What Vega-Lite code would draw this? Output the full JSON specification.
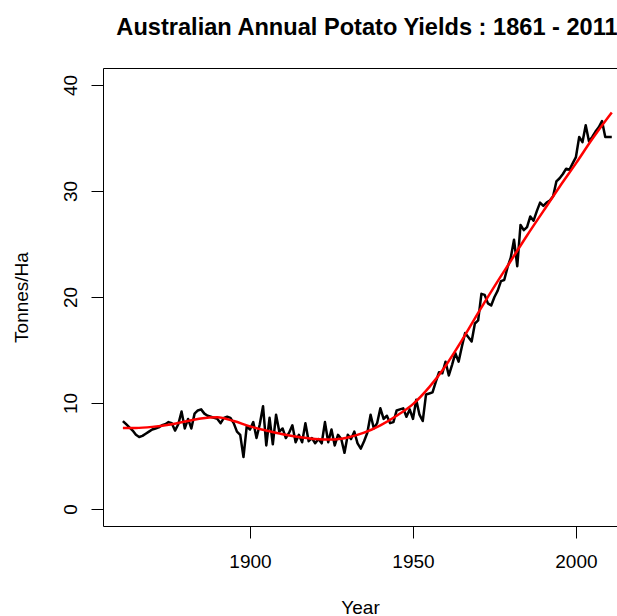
{
  "$schema": "https://vega.github.io/schema/vega-lite/v6.json",
  "width": 514,
  "height": 458,
  "autosize": {"type": "none"},
  "padding": {"left": 103, "top": 68, "right": 0, "bottom": 90},
  "background": "white",
  "config": {
    "view": {"stroke": "black", "strokeWidth": 1},
    "font": "Liberation Sans"
  },
  "title": {
    "text": "Australian Annual Potato Yields : 1861 - 2011",
    "font": "Liberation Sans",
    "fontSize": 23.6,
    "fontWeight": "bold",
    "color": "black",
    "anchor": "middle",
    "frame": "group",
    "dx": 7,
    "baseline": "top",
    "offset": 28
  },
  "datasets": {
    "yields": [
      {"Year": 1861, "Yield": 8.3}, {"Year": 1862, "Yield": 8.0}, {"Year": 1863, "Yield": 7.7}, {"Year": 1864, "Yield": 7.4}, {"Year": 1865, "Yield": 7.0},
      {"Year": 1866, "Yield": 6.8}, {"Year": 1867, "Yield": 6.9}, {"Year": 1868, "Yield": 7.1}, {"Year": 1869, "Yield": 7.3}, {"Year": 1870, "Yield": 7.5},
      {"Year": 1871, "Yield": 7.6}, {"Year": 1872, "Yield": 7.7}, {"Year": 1873, "Yield": 7.9}, {"Year": 1874, "Yield": 8.0}, {"Year": 1875, "Yield": 8.2},
      {"Year": 1876, "Yield": 8.1}, {"Year": 1877, "Yield": 7.4}, {"Year": 1878, "Yield": 8.0}, {"Year": 1879, "Yield": 9.2}, {"Year": 1880, "Yield": 7.6},
      {"Year": 1881, "Yield": 8.5}, {"Year": 1882, "Yield": 7.6}, {"Year": 1883, "Yield": 9.0}, {"Year": 1884, "Yield": 9.3}, {"Year": 1885, "Yield": 9.4},
      {"Year": 1886, "Yield": 9.0}, {"Year": 1887, "Yield": 8.8}, {"Year": 1888, "Yield": 8.7}, {"Year": 1889, "Yield": 8.6}, {"Year": 1890, "Yield": 8.5},
      {"Year": 1891, "Yield": 8.1}, {"Year": 1892, "Yield": 8.6}, {"Year": 1893, "Yield": 8.7}, {"Year": 1894, "Yield": 8.6}, {"Year": 1895, "Yield": 8.1},
      {"Year": 1896, "Yield": 7.3}, {"Year": 1897, "Yield": 7.0}, {"Year": 1898, "Yield": 4.9}, {"Year": 1899, "Yield": 7.8}, {"Year": 1900, "Yield": 7.5},
      {"Year": 1901, "Yield": 8.2}, {"Year": 1902, "Yield": 6.7}, {"Year": 1903, "Yield": 8.0}, {"Year": 1904, "Yield": 9.7}, {"Year": 1905, "Yield": 6.0},
      {"Year": 1906, "Yield": 8.6}, {"Year": 1907, "Yield": 6.1}, {"Year": 1908, "Yield": 8.9}, {"Year": 1909, "Yield": 7.3}, {"Year": 1910, "Yield": 7.6},
      {"Year": 1911, "Yield": 6.7}, {"Year": 1912, "Yield": 7.2}, {"Year": 1913, "Yield": 7.9}, {"Year": 1914, "Yield": 6.3}, {"Year": 1915, "Yield": 7.0},
      {"Year": 1916, "Yield": 6.3}, {"Year": 1917, "Yield": 8.1}, {"Year": 1918, "Yield": 6.4}, {"Year": 1919, "Yield": 6.7}, {"Year": 1920, "Yield": 6.2},
      {"Year": 1921, "Yield": 6.6}, {"Year": 1922, "Yield": 6.2}, {"Year": 1923, "Yield": 8.2}, {"Year": 1924, "Yield": 6.3}, {"Year": 1925, "Yield": 7.5},
      {"Year": 1926, "Yield": 6.0}, {"Year": 1927, "Yield": 7.0}, {"Year": 1928, "Yield": 6.6}, {"Year": 1929, "Yield": 5.3}, {"Year": 1930, "Yield": 7.0},
      {"Year": 1931, "Yield": 6.6}, {"Year": 1932, "Yield": 7.3}, {"Year": 1933, "Yield": 6.2}, {"Year": 1934, "Yield": 5.7}, {"Year": 1935, "Yield": 6.4},
      {"Year": 1936, "Yield": 7.2}, {"Year": 1937, "Yield": 8.9}, {"Year": 1938, "Yield": 7.6}, {"Year": 1939, "Yield": 8.1}, {"Year": 1940, "Yield": 9.5},
      {"Year": 1941, "Yield": 8.5}, {"Year": 1942, "Yield": 8.8}, {"Year": 1943, "Yield": 8.1}, {"Year": 1944, "Yield": 8.2}, {"Year": 1945, "Yield": 9.3},
      {"Year": 1946, "Yield": 9.4}, {"Year": 1947, "Yield": 9.5}, {"Year": 1948, "Yield": 8.7}, {"Year": 1949, "Yield": 9.4}, {"Year": 1950, "Yield": 8.5},
      {"Year": 1951, "Yield": 10.3}, {"Year": 1952, "Yield": 8.9}, {"Year": 1953, "Yield": 8.3}, {"Year": 1954, "Yield": 10.8}, {"Year": 1955, "Yield": 10.9},
      {"Year": 1956, "Yield": 11.0}, {"Year": 1957, "Yield": 12.0}, {"Year": 1958, "Yield": 12.9}, {"Year": 1959, "Yield": 12.8}, {"Year": 1960, "Yield": 13.9},
      {"Year": 1961, "Yield": 12.6}, {"Year": 1962, "Yield": 13.6}, {"Year": 1963, "Yield": 14.7}, {"Year": 1964, "Yield": 13.9}, {"Year": 1965, "Yield": 15.3},
      {"Year": 1966, "Yield": 16.6}, {"Year": 1967, "Yield": 16.2}, {"Year": 1968, "Yield": 15.8}, {"Year": 1969, "Yield": 17.5}, {"Year": 1970, "Yield": 17.8},
      {"Year": 1971, "Yield": 20.3}, {"Year": 1972, "Yield": 20.2}, {"Year": 1973, "Yield": 19.4}, {"Year": 1974, "Yield": 19.2}, {"Year": 1975, "Yield": 20.0},
      {"Year": 1976, "Yield": 20.6}, {"Year": 1977, "Yield": 21.5}, {"Year": 1978, "Yield": 21.6}, {"Year": 1979, "Yield": 22.8}, {"Year": 1980, "Yield": 23.7},
      {"Year": 1981, "Yield": 25.4}, {"Year": 1982, "Yield": 22.9}, {"Year": 1983, "Yield": 26.8}, {"Year": 1984, "Yield": 26.3}, {"Year": 1985, "Yield": 26.6},
      {"Year": 1986, "Yield": 27.6}, {"Year": 1987, "Yield": 27.2}, {"Year": 1988, "Yield": 28.1}, {"Year": 1989, "Yield": 28.9}, {"Year": 1990, "Yield": 28.6},
      {"Year": 1991, "Yield": 28.9}, {"Year": 1992, "Yield": 29.1}, {"Year": 1993, "Yield": 29.5}, {"Year": 1994, "Yield": 30.9}, {"Year": 1995, "Yield": 31.2},
      {"Year": 1996, "Yield": 31.6}, {"Year": 1997, "Yield": 32.1}, {"Year": 1998, "Yield": 32.0}, {"Year": 1999, "Yield": 32.6}, {"Year": 2000, "Yield": 33.2},
      {"Year": 2001, "Yield": 35.1}, {"Year": 2002, "Yield": 34.6}, {"Year": 2003, "Yield": 36.2}, {"Year": 2004, "Yield": 34.7}, {"Year": 2005, "Yield": 35.1},
      {"Year": 2006, "Yield": 35.6}, {"Year": 2007, "Yield": 36.0}, {"Year": 2008, "Yield": 36.6}, {"Year": 2009, "Yield": 35.1}, {"Year": 2010, "Yield": 35.1},
      {"Year": 2011, "Yield": 35.1}
    ],
    "smooth": [
      {"Year": 1861, "Fit": 7.65}, {"Year": 1865, "Fit": 7.65}, {"Year": 1870, "Fit": 7.75}, {"Year": 1875, "Fit": 7.95},
      {"Year": 1880, "Fit": 8.25}, {"Year": 1885, "Fit": 8.55}, {"Year": 1890, "Fit": 8.65}, {"Year": 1895, "Fit": 8.3},
      {"Year": 1900, "Fit": 7.8}, {"Year": 1905, "Fit": 7.4}, {"Year": 1910, "Fit": 7.05}, {"Year": 1915, "Fit": 6.8},
      {"Year": 1920, "Fit": 6.6}, {"Year": 1925, "Fit": 6.55}, {"Year": 1930, "Fit": 6.75}, {"Year": 1935, "Fit": 7.2},
      {"Year": 1940, "Fit": 7.9}, {"Year": 1945, "Fit": 8.8}, {"Year": 1950, "Fit": 9.9}, {"Year": 1955, "Fit": 11.5},
      {"Year": 1960, "Fit": 13.5}, {"Year": 1965, "Fit": 15.9}, {"Year": 1970, "Fit": 18.5}, {"Year": 1975, "Fit": 21.0},
      {"Year": 1980, "Fit": 23.4}, {"Year": 1985, "Fit": 25.8}, {"Year": 1990, "Fit": 28.1}, {"Year": 1995, "Fit": 30.4},
      {"Year": 2000, "Fit": 32.6}, {"Year": 2005, "Fit": 34.9}, {"Year": 2010, "Fit": 37.0}, {"Year": 2011, "Fit": 37.4}
    ]
  },
  "layer": [
    {
      "data": {"name": "yields"},
      "mark": {"type": "line", "color": "black", "strokeWidth": 2.5, "strokeJoin": "round"},
      "encoding": {
        "x": {
          "field": "Year", "type": "quantitative",
          "scale": {"domain": [1854.9, 2012.6], "nice": false, "zero": false},
          "axis": {
            "values": [1900, 1950, 2000], "format": "d", "title": "Year", "grid": false, "domain": false,
            "tickColor": "black", "tickSize": 12, "tickWidth": 1,
            "labelFont": "Liberation Sans", "labelFontSize": 19, "labelColor": "black", "labelPadding": 14,
            "titleFont": "Liberation Sans", "titleFontSize": 19, "titleFontWeight": "normal", "titleColor": "black", "titlePadding": 27
          }
        },
        "y": {
          "field": "Yield", "type": "quantitative",
          "scale": {"domain": [-1.6, 41.6], "nice": false, "zero": false},
          "axis": {
            "values": [0, 10, 20, 30, 40], "title": "Tonnes/Ha", "grid": false, "domain": false,
            "tickColor": "black", "tickSize": 12, "tickWidth": 1,
            "labelAngle": -90, "labelAlign": "center", "labelBaseline": "alphabetic",
            "labelFont": "Liberation Sans", "labelFontSize": 19, "labelColor": "black", "labelPadding": 15,
            "titleFont": "Liberation Sans", "titleFontSize": 19, "titleFontWeight": "normal", "titleColor": "black", "titlePadding": 30
          }
        }
      }
    },
    {
      "data": {"name": "smooth"},
      "mark": {"type": "line", "color": "#ff0000", "strokeWidth": 2.5, "interpolate": "monotone"},
      "encoding": {
        "x": {"field": "Year", "type": "quantitative"},
        "y": {"field": "Fit", "type": "quantitative"}
      }
    }
  ]
}
